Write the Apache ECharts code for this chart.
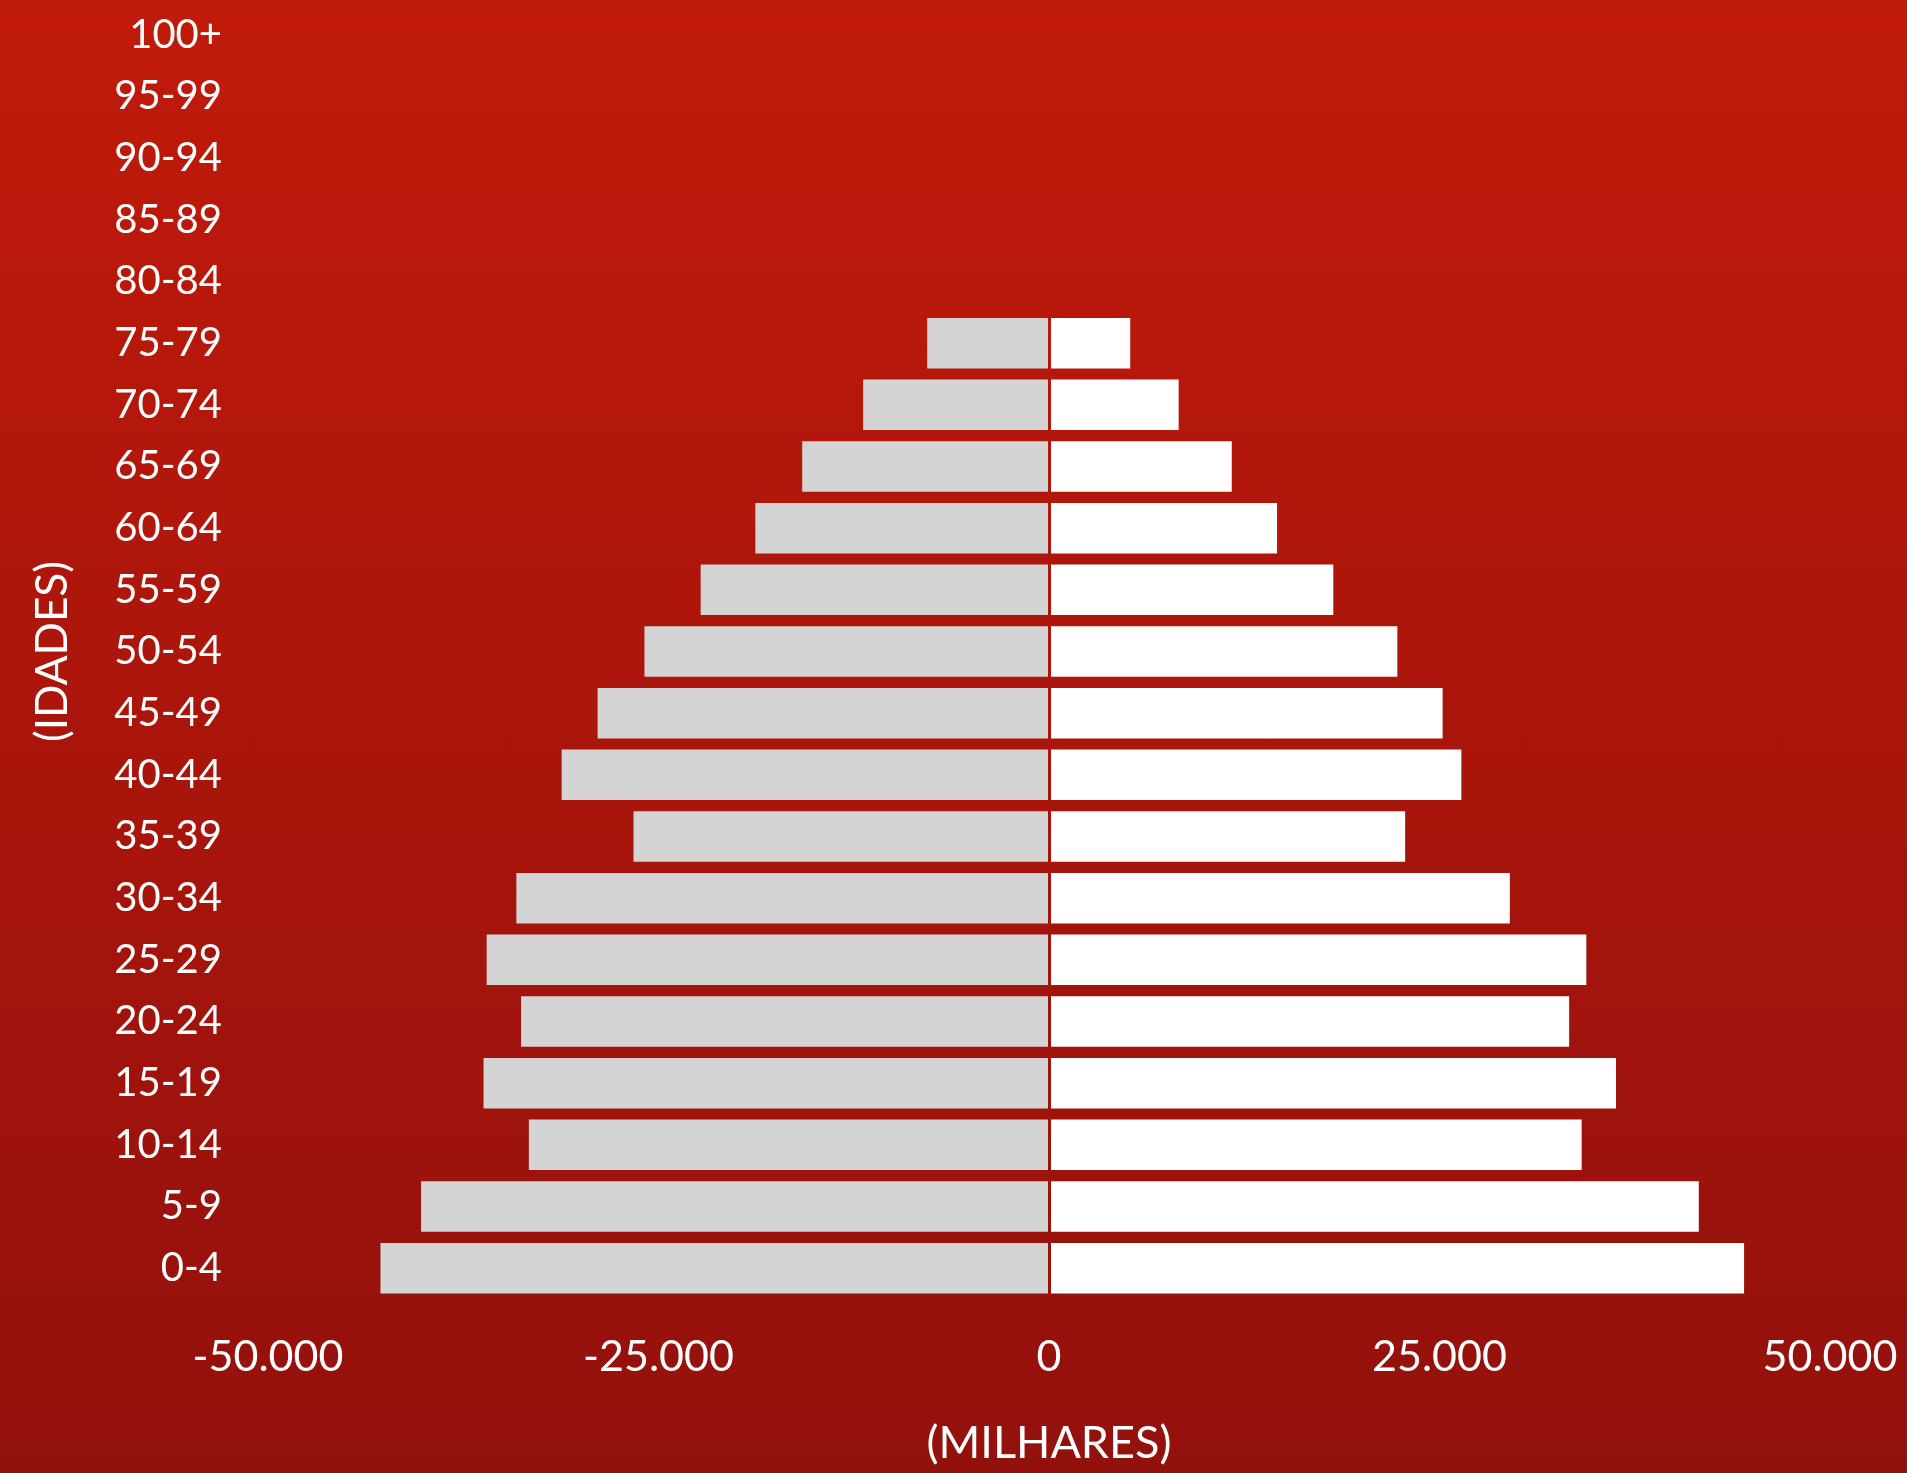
<!DOCTYPE html>
<html>
<head>
<meta charset="utf-8">
<style>
html,body{margin:0;padding:0;width:1907px;height:1473px;overflow:hidden;background:linear-gradient(to bottom,#c11a0a 0%,#93110d 100%);}
#chart{width:1907px;height:1473px;}
</style>
<script src="https://cdn.jsdelivr.net/npm/echarts@6/dist/echarts.min.js"></script>
</head>
<body>
<div id="chart"></div>
<script>
// Age groups (bottom to top)
const ageGroups = ['0-4','5-9','10-14','15-19','20-24','25-29','30-34','35-39','40-44','45-49','50-54','55-59','60-64','65-69','70-74','75-79','80-84','85-89','90-94','95-99','100+'];
// Left side (grey) values, thousands (shown as negative)
const leftValues = [42.8, 40.2, 33.3, 36.2, 33.8, 36.0, 34.1, 26.6, 31.2, 28.9, 25.9, 22.3, 18.8, 15.8, 11.9, 7.8, 0, 0, 0, 0, 0];
// Right side (white) values, thousands
const rightValues = [44.5, 41.6, 34.1, 36.3, 33.3, 34.4, 29.5, 22.8, 26.4, 25.2, 22.3, 18.2, 14.6, 11.7, 8.3, 5.2, 0, 0, 0, 0, 0];
// X tick values
const xTicks = [-50000, -25000, 0, 25000, 50000];

const leftData = leftValues.map(v => -Math.round(v * 1000));
const rightData = rightValues.map(v => Math.round(v * 1000));

function fmt(v){
  const s = Math.abs(v).toString().replace(/\B(?=(\d{3})+(?!\d))/g, '.');
  return (v < 0 ? '-' : '') + s;
}

const chart = echarts.init(document.getElementById('chart'), null, {renderer:'canvas'});
const bgGrad = new echarts.graphic.LinearGradient(0, 0, 0, 1473, [
  {offset:0, color:'#c11a0a'},
  {offset:1, color:'#93110d'}
], true);

chart.setOption({
  backgroundColor: 'transparent',
  animation: false,
  textStyle: {fontFamily: 'Lato'},
  grid: {left: 268, right: 77, top: 4, bottom: 174, outerBoundsMode: 'none', containLabel: false},
  xAxis: {
    type: 'value',
    min: xTicks[0],
    max: xTicks[xTicks.length - 1],
    interval: 25000,
    splitLine: {show: false},
    axisLine: {show: false},
    axisTick: {show: false},
    axisLabel: {color: '#ffffff', fontSize: 43, fontFamily: 'Lato', margin: 37, formatter: fmt},
    name: '(MILHARES)',
    nameLocation: 'middle',
    nameGap: 122,
    nameMoveOverlap: false,
    nameTextStyle: {color: '#ffffff', fontSize: 45, fontFamily: 'Lato'}
  },
  yAxis: {
    type: 'category',
    data: ageGroups,
    z: 10,
    axisLine: {show: true, onZero: true, lineStyle: {color: bgGrad, width: 3}},
    axisTick: {show: false},
    axisLabel: {color: '#ffffff', fontSize: 40, fontFamily: 'Lato', margin: 46, padding: [22, 0, 0, 0]},
    name: '(IDADES)',
    nameLocation: 'middle',
    nameGap: 193,
    nameMoveOverlap: false,
    nameTextStyle: {color: '#ffffff', fontSize: 44, fontFamily: 'Lato'}
  },
  series: [
    {
      name: 'left',
      type: 'bar',
      data: leftData,
      barCategoryGap: '18%',
      barGap: '-100%',
      itemStyle: {color: '#d4d4d4'}
    },
    {
      name: 'right',
      type: 'bar',
      data: rightData,
      barCategoryGap: '18%',
      barGap: '-100%',
      itemStyle: {color: '#ffffff'}
    }
  ]
});
</script>
</body>
</html>
